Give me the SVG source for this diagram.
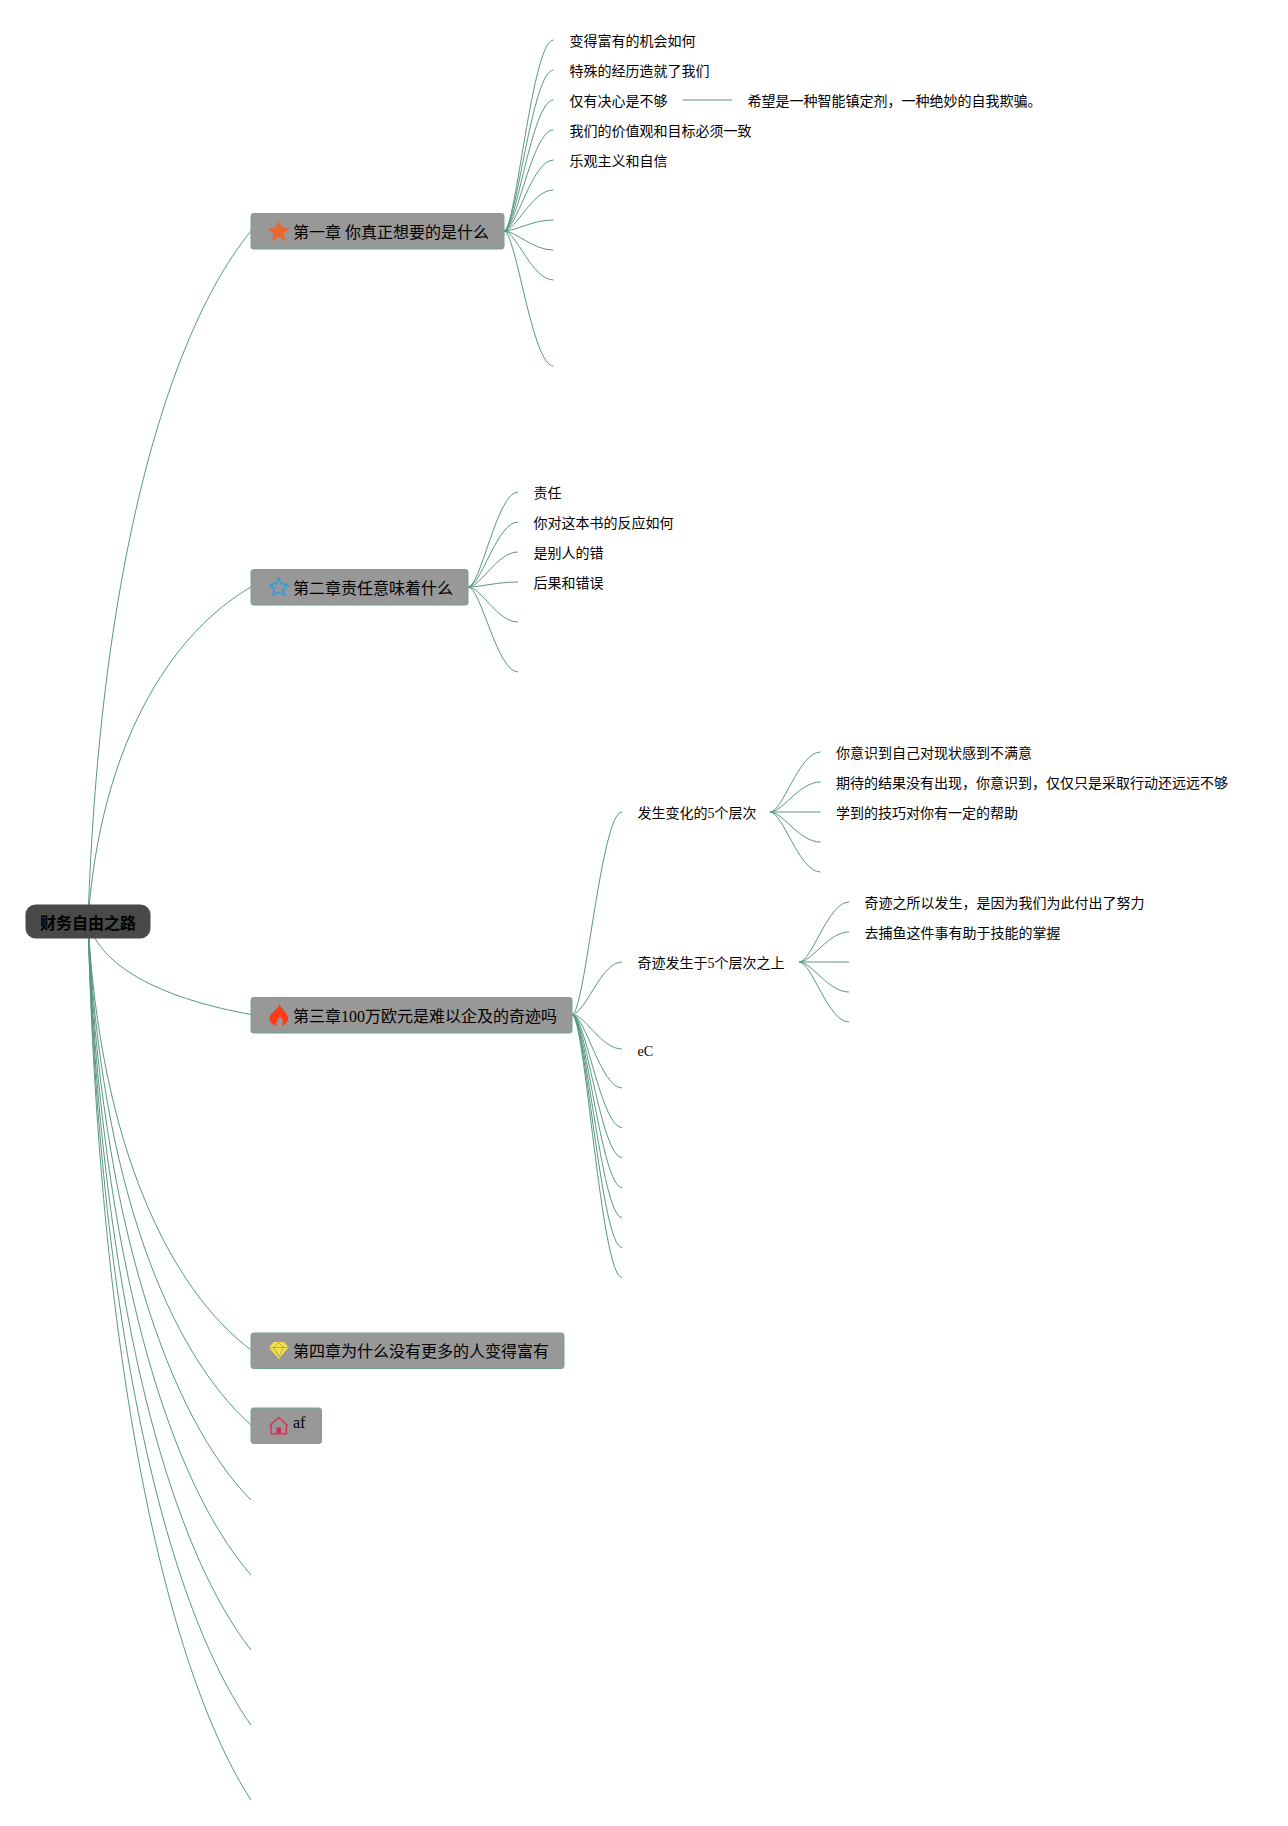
<svg xmlns="http://www.w3.org/2000/svg" width="1288" height="1826" viewBox="0 0 1288 1826">
<style>
text{font-family:"Liberation Serif","Noto Sans CJK SC",serif;fill:#000}
.t14{font-size:14px}
.t16{font-size:16px}
.root{font-size:16px;font-weight:700}
.box{fill:#989898;stroke:#6fa596;stroke-width:1}
.rootbox{fill:#494949}
#connectors path{fill:none;stroke:#5a9685;stroke-width:1}
</style>
<rect width="1288" height="1826" fill="#fff"/>
<g id="connectors">
<path d="M88 921C100 560 170 330 251 231"/>
<path d="M88 921C100 746 170 634 251 587"/>
<path d="M88 921C100 970 170 1000 251 1014.5"/>
<path d="M88 921C100 1146 170 1289 251 1350"/>
<path d="M88 921C100 1185 170 1353 251 1425"/>
<path d="M88 921C100 1224 170 1418 251 1500"/>
<path d="M88 921C100 1264 170 1482 251 1575"/>
<path d="M88 921C100 1303 170 1546 251 1650"/>
<path d="M88 921C100 1342 170 1611 251 1725"/>
<path d="M88 921C100 1382 170 1675 251 1800"/>
<path d="M504 231C516 231 532 40 553.5 40"/>
<path d="M504 231C516 231 532 70 553.5 70"/>
<path d="M504 231C516 231 532 100 553.5 100"/>
<path d="M504 231C516 231 532 130 553.5 130"/>
<path d="M504 231C516 231 532 160 553.5 160"/>
<path d="M504 231C516 231 532 190 553.5 190"/>
<path d="M504 231C516 231 532 220 553.5 220"/>
<path d="M504 231C516 231 532 250 553.5 250"/>
<path d="M504 231C516 231 532 280 553.5 280"/>
<path d="M504 231C516 231 532 366 553.5 366"/>
<path d="M682.5 100H732"/>
<path d="M468 587C481 587 497 492 518 492"/>
<path d="M468 587C481 587 497 522 518 522"/>
<path d="M468 587C481 587 497 552 518 552"/>
<path d="M468 587C481 587 497 582 518 582"/>
<path d="M468 587C481 587 497 622 518 622"/>
<path d="M468 587C481 587 497 672 518 672"/>
<path d="M572 1014.5C585 1014.5 601 812 622 812"/>
<path d="M572 1014.5C585 1014.5 601 962 622 962"/>
<path d="M572 1014.5C585 1014.5 601 1049 622 1049"/>
<path d="M572 1014.5C585 1014.5 601 1088 622 1088"/>
<path d="M572 1014.5C585 1014.5 601 1127.500 622 1127.500"/>
<path d="M572 1014.5C585 1014.5 601 1157.500 622 1157.500"/>
<path d="M572 1014.5C585 1014.5 601 1187.500 622 1187.500"/>
<path d="M572 1014.5C585 1014.5 601 1217.500 622 1217.500"/>
<path d="M572 1014.5C585 1014.5 601 1247.500 622 1247.500"/>
<path d="M572 1014.5C585 1014.5 601 1277.500 622 1277.500"/>
<path d="M770 812C783 812 799 752 820.500 752"/>
<path d="M770 812C783 812 799 782 820.500 782"/>
<path d="M770 812H820.500"/>
<path d="M770 812C783 812 799 842 820.500 842"/>
<path d="M770 812C783 812 799 872 820.500 872"/>
<path d="M799 962C812 962 828 902 849 902"/>
<path d="M799 962C812 962 828 932 849 932"/>
<path d="M799 962H849"/>
<path d="M799 962C812 962 828 992 849 992"/>
<path d="M799 962C812 962 828 1022 849 1022"/>
</g>
<g id="root"><rect class="rootbox" x="25.500" y="904.500" width="125" height="34" rx="10"/><text class="root" x="40" y="928.500">财务自由之路</text></g>
<g id="ch1"><rect class="box" x="251" y="213.500" width="253" height="35.500" rx="2.500"/>
<polygon fill="#e8682f" points="278.700,220.500 281.800,227.600 289.500,228.400 283.700,233.500 285.400,241 278.700,237.100 272,241 273.700,233.500 267.900,228.400 275.600,227.600"/>
<text class="t16" x="293" y="237.500">第一章 你真正想要的是什么</text></g>
<g id="ch2"><rect class="box" x="251" y="569.500" width="217" height="35.500" rx="2.500"/>
<polygon fill="none" stroke="#3f9bd8" stroke-width="2" stroke-linejoin="round" points="278.700,578 281.300,583.800 287.800,584.500 283,588.900 284.300,595.200 278.700,592 273.100,595.200 274.400,588.900 269.600,584.500 276.100,583.800"/>
<text class="t16" x="293" y="593.500">第二章责任意味着什么</text></g>
<g id="ch3"><rect class="box" x="251" y="997.500" width="321" height="35.500" rx="2.500"/>
<path fill="#ff3a14" d="M279.500 1004C281 1009 288 1012.500 288 1018.500C288 1022.500 285 1025 281.500 1025.500C284 1022.500 283 1019 280 1016.500C278.500 1019 276 1020.500 276.500 1025.500C273 1025 269.500 1022.500 269.500 1018.500C269.500 1012.500 278.500 1010 279.500 1004Z"/>
<text class="t16" x="293" y="1021.500">第三章100万欧元是难以企及的奇迹吗</text></g>
<g id="ch4"><rect class="box" x="251" y="1333" width="313" height="35.500" rx="2.500"/>
<path fill="#f3e14b" d="M273.500 1342H284L288.500 1347.500L278.700 1359L269 1347.500Z"/>
<path fill="none" stroke="#98963f" stroke-width=".7" d="M269.500 1347.500H288M274 1347.500L278.700 1357L283.500 1347.500L278.700 1342.500L274 1347.500"/>
<text class="t16" x="293" y="1356.500">第四章为什么没有更多的人变得富有</text></g>
<g id="ch5"><rect class="box" x="251" y="1408" width="70.500" height="35.500" rx="2.500"/>
<path fill="none" stroke="#e0274f" stroke-width="1.300" d="M269.700 1425.500L278.700 1417.500L287.700 1425.500M271 1424.500V1433.800H286.400V1424.500"/>
<rect fill="#e0274f" x="276.500" y="1427.500" width="4.400" height="6"/>
<text class="t16" x="293" y="1428">af</text></g>
<g id="ch1-children">
<text class="t14" x="569.500" y="46">变得富有的机会如何</text>
<text class="t14" x="569.500" y="76">特殊的经历造就了我们</text>
<text class="t14" x="569.500" y="106">仅有决心是不够</text>
<text class="t14" x="747.500" y="106">希望是一种智能镇定剂，一种绝妙的自我欺骗。</text>
<text class="t14" x="569.500" y="136">我们的价值观和目标必须一致</text>
<text class="t14" x="569.500" y="166">乐观主义和自信</text>
</g>
<g id="ch2-children">
<text class="t14" x="533.500" y="498">责任</text>
<text class="t14" x="533.500" y="528">你对这本书的反应如何</text>
<text class="t14" x="533.500" y="558">是别人的错</text>
<text class="t14" x="533.500" y="588">后果和错误</text>
</g>
<g id="ch3-children">
<text class="t14" x="637.500" y="818">发生变化的5个层次</text>
<text class="t14" x="637.500" y="968">奇迹发生于5个层次之上</text>
<text class="t14" x="637.500" y="1056">eC</text>
<text class="t14" x="836" y="758">你意识到自己对现状感到不满意</text>
<text class="t14" x="836" y="788">期待的结果没有出现，你意识到，仅仅只是采取行动还远远不够</text>
<text class="t14" x="836" y="818">学到的技巧对你有一定的帮助</text>
<text class="t14" x="864.500" y="908">奇迹之所以发生，是因为我们为此付出了努力</text>
<text class="t14" x="864.500" y="938">去捕鱼这件事有助于技能的掌握</text>
</g>
</svg>
